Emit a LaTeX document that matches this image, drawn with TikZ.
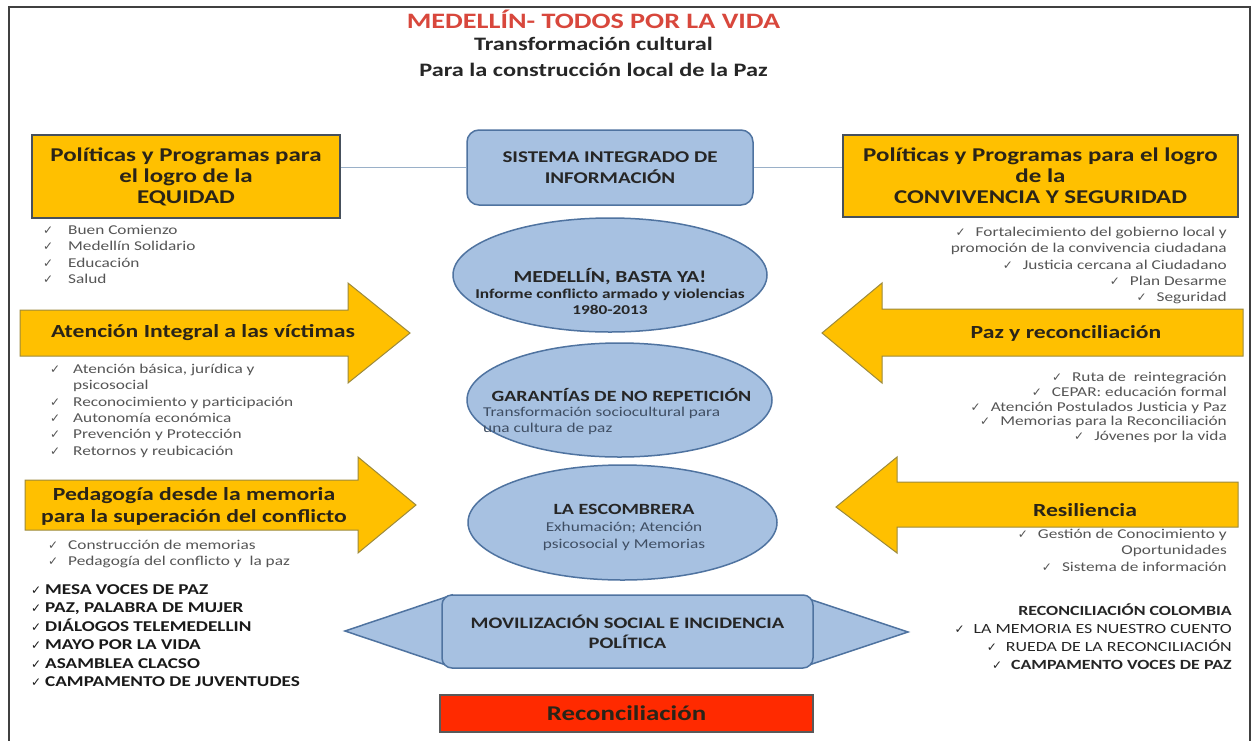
\documentclass[tikz,border=0pt]{standalone}
\usepackage{fontspec}
\setmainfont{Carlito}[FakeStretch=1.28]
\newfontfamily\symf{DejaVu Sans}
\usetikzlibrary{shapes.geometric}
\definecolor{gold}{HTML}{FFC000}
\definecolor{goldline}{HTML}{9C8A3C}
\definecolor{boxline}{HTML}{46505C}
\definecolor{lblue}{HTML}{A7C1E1}
\definecolor{bline}{HTML}{4F73A0}
\definecolor{rfill}{HTML}{FF2A00}
\definecolor{titlered}{HTML}{D8473C}
\definecolor{lgray}{HTML}{555555}
\definecolor{subblue}{HTML}{3F4E63}
\definecolor{connc}{HTML}{9AB0C8}
\definecolor{hdark}{HTML}{2A2418}
\newcommand\fsz[2]{\fontsize{#1}{#2}\selectfont}
\newcommand\chk{{\symf\fontsize{12}{12}\selectfont ✓}}
\newcommand\ckl[1]{\makebox[#1][l]{\chk}}
\tikzset{
  frame/.style={draw=black!75, line width=2},
  ybox/.style={rectangle, fill=gold, draw=boxline, line width=1.5, align=center, text=hdark,
    font=\bfseries\fsz{19.5}{21}, inner sep=0},
  bbox/.style={rectangle, rounded corners=12, fill=lblue, draw=bline, line width=1.5, align=center,
    text=black!85, inner sep=0},
  bell/.style={ellipse, fill=lblue, draw=bline, line width=1.5, inner sep=0},
  yarrow/.style={fill=gold, draw=goldline, line width=1},
  btri/.style={fill=lblue, draw=bline, line width=1.5},
  conn/.style={draw=connc, line width=1.3},
  atext/.style={font=\bfseries\fsz{18.5}{22}, text=hdark, align=center, inner sep=0},
  lst/.style={font=\fsz{13.5}{16.3}, text=lgray, inner sep=0},
  blst/.style={font=\bfseries\fsz{15}{18.5}, text=black!90, inner sep=0},
}
\begin{document}
\begin{tikzpicture}[x=1pt,y=-1pt]
\useasboundingbox (0,0) rectangle (1259,740);
\fill[white] (0,0) rectangle (1259,740);
\draw[frame] (9,760) -- (9,7) -- (1250,7) -- (1250,760);

% title
\node[font=\bfseries\fsz{22}{24}, text=titlered, inner sep=0] (t1) at (593.5,19) {MEDELLÍN- TODOS POR LA VIDA};
\node[font=\bfseries\fsz{19}{21}, text=black!85, inner sep=0] (t2) at (593.5,44) {Transformación cultural};
\node[font=\bfseries\fsz{19}{21}, text=black!85, inner sep=0] (t3) at (593.5,70) {Para la construcción local de la Paz};

% top boxes
\node[ybox, minimum width=308, minimum height=83] (eq) at (186,176.5) {Políticas y Programas para\\el logro de la\\EQUIDAD};
\node[ybox, minimum width=395, minimum height=82] (cs) at (1040.5,176) {Políticas y Programas para el logro\\de la\\CONVIVENCIA Y SEGURIDAD};
\node[bbox, minimum width=286, minimum height=75, font=\bfseries\fsz{16.4}{21}] (sis) at (610,167.5) {SISTEMA INTEGRADO DE\\INFORMACIÓN};
\draw[conn] (eq.east |- sis.west) -- (sis.west);
\draw[conn] (sis.east) -- (sis.east -| cs.west);

% ellipses
\node[bell, minimum width=314, minimum height=114] (e1) at (610,275) {};
\node[align=center, inner sep=0, text=black!85, font=\bfseries\fsz{13.5}{16}] (e1t) at (610,291)
  {{\fsz{16.8}{16}MEDELLÍN, BASTA YA!}\\Informe conflicto armado y violencias\\1980-2013};
\node[bell, minimum width=305, minimum height=114] (e2) at (619.5,400) {};
\node[font=\bfseries\fsz{15.6}{17}, text=black!85, inner sep=0] (e2a) at (621.5,395) {GARANTÍAS DE NO REPETICIÓN};
\node[anchor=north west, align=left, font=\fsz{13.5}{15.5}, text=subblue, inner sep=0] (e2b) at (483,407)
  {Transformación sociocultural para\\una cultura de paz};
\node[bell, minimum width=309, minimum height=115] (e3) at (622.5,522.5) {};
\node[align=center, inner sep=0, text=subblue, font=\fsz{13.5}{17}] (e3t) at (624,527)
  {{\bfseries\fsz{15.6}{17}\color{black!85}LA ESCOMBRERA}\\Exhumación; Atención\\psicosocial y Memorias};

% arrows left
\draw[yarrow] (20,310) -- (348,310) -- (348,283) -- (410,333) -- (348,383) -- (348,356) -- (20,356) -- cycle;
\node[atext] (at1) at (203,333) {Atención Integral a las víctimas};
\draw[yarrow] (25,480) -- (358,480) -- (358,457) -- (416,505) -- (358,553) -- (358,530) -- (25,530) -- cycle;
\node[atext] (at2) at (194,506) {Pedagogía desde la memoria\\para la superación del conflicto};

% arrows right
\draw[yarrow] (1243,309) -- (882,309) -- (882,283) -- (822,333) -- (882,383) -- (882,356) -- (1243,356) -- cycle;
\node[atext] (at3) at (1066,333) {Paz y reconciliación};
\draw[yarrow] (1238,482) -- (897,482) -- (897,457) -- (836,507) -- (897,553) -- (897,527) -- (1238,527) -- cycle;
\node[atext] (at4) at (1085,510) {Resiliencia};

% movilizacion
\draw[btri] (345,631) -- (452,595) -- (452,667) -- cycle;
\draw[btri] (908,632) -- (803,597) -- (803,667) -- cycle;
\node[bbox, rounded corners=10, minimum width=371, minimum height=73, font=\bfseries\fsz{16}{20}] (mov) at (627.5,631.5) {MOVILIZACIÓN SOCIAL E INCIDENCIA\\POLÍTICA};

% reconciliacion
\node[rectangle, fill=rfill, draw=black!65, line width=1.2, minimum width=373, minimum height=37, inner sep=0,
  font=\bfseries\fsz{21}{22}, text=hdark] (rec) at (626.5,713.5) {Reconciliación};

% left lists
\node[lst, anchor=north west, align=left] (l1) at (43,225)
  {\ckl{25pt}Buen Comienzo\\\ckl{25pt}Medellín Solidario\\\ckl{25pt}Educación\\\ckl{25pt}Salud};
\node[lst, anchor=north west, align=left] (l2) at (50,364)
  {\ckl{23pt}Atención básica, jurídica y\\\hspace*{23pt}psicosocial\\\ckl{23pt}Reconocimiento y participación\\\ckl{23pt}Autonomía económica\\\ckl{23pt}Prevención y Protección\\\ckl{23pt}Retornos y reubicación};
\node[lst, anchor=north west, align=left] (l3) at (48,540)
  {\ckl{20pt}Construcción de memorias\\\ckl{20pt}Pedagogía del conflicto y \ la paz};
\node[blst, anchor=north west, align=left] (l4) at (31,584)
  {\ckl{14pt}MESA VOCES DE PAZ\\\ckl{14pt}PAZ, PALABRA DE MUJER\\\ckl{14pt}DIÁLOGOS TELEMEDELLIN\\\ckl{14pt}MAYO POR LA VIDA\\\ckl{14pt}ASAMBLEA CLACSO\\\ckl{14pt}CAMPAMENTO DE JUVENTUDES};

% right lists
\node[lst, anchor=north east, align=right] (r1) at (1227,227)
  {\chk\hspace{10pt}Fortalecimiento del gobierno local y\\promoción de la convivencia ciudadana\\\chk\hspace{10pt}Justicia cercana al Ciudadano\\\chk\hspace{10pt}Plan Desarme\\\chk\hspace{10pt}Seguridad};
\node[lst, anchor=north east, align=right, font=\fsz{13.5}{14.8}] (r2) at (1227,372)
  {\chk\hspace{10pt}Ruta de \ reintegración\\\chk\hspace{10pt}CEPAR: educación formal\\\chk\hspace{10pt}Atención Postulados Justicia y Paz\\\chk\hspace{10pt}Memorias para la Reconciliación\\\chk\hspace{10pt}Jóvenes por la vida};
\node[lst, anchor=north east, align=right] (r3) at (1227,529)
  {\chk\hspace{10pt}Gestión de Conocimiento y\\Oportunidades\\\chk\hspace{10pt}Sistema de información};
\node[anchor=north east, align=right, font=\fsz{14}{17.7}, text=black!85, inner sep=0] (r4) at (1232,604)
  {\textbf{RECONCILIACIÓN COLOMBIA}\\\chk\hspace{9pt}LA MEMORIA ES NUESTRO CUENTO\\\chk\hspace{9pt}RUEDA DE LA RECONCILIACIÓN\\\chk\hspace{9pt}\textbf{CAMPAMENTO VOCES DE PAZ}};
\end{tikzpicture}
\end{document}
